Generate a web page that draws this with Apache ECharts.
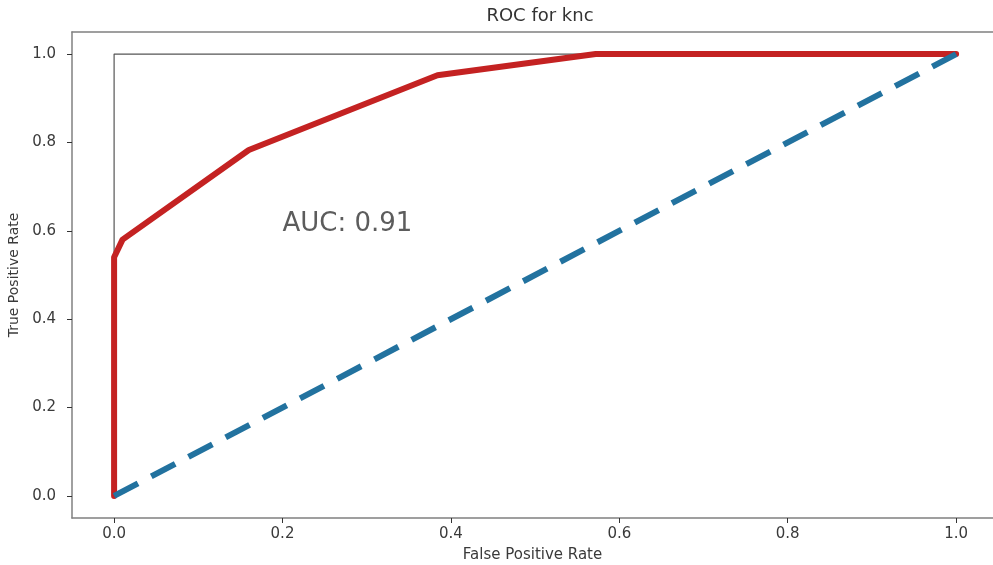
<!DOCTYPE html>
<html>
<head>
<meta charset="utf-8">
<script src="https://cdn.jsdelivr.net/npm/echarts@6/dist/echarts.min.js"></script>
<style>
html,body{margin:0;padding:0;background:#fff;}
#c{width:993px;height:565px;}
</style>
</head>
<body>
<div id="c"></div>
<script>
const titleText = 'ROC for knc';
const xLabel = 'False Positive Rate';
const yLabel = 'True Positive Rate';
const aucText = 'AUC: 0.91';
const aucPos = [0.2, 0.6];
const rocFpr = [0.0, 0.0, 0.01, 0.16, 0.384, 0.572, 1.0];
const rocTpr = [0.0, 0.54, 0.58, 0.783, 0.952, 1.0, 1.0];
const chanceX = [0, 1];
const chanceY = [0, 1];
const perfectX = [0, 0, 1];
const perfectY = [0, 1, 1];
const ticks = [0.0, 0.2, 0.4, 0.6, 0.8, 1.0];
const axisMin = -0.05;
const xAxisMax = 1.0438;
const yAxisMax = 1.05;

const zip = (a, b) => a.map((v, i) => [v, b[i]]);
const font = 'DejaVu Sans';
const chart = echarts.init(document.getElementById('c'), null, {renderer: 'canvas'});

const spine = {show: true, onZero: false, lineStyle: {color: '#808080', width: 1.5}};
const tickStyle = {show: true, length: 5, inside: false, lineStyle: {color: '#333', width: 1}, customValues: ticks};
const labelStyle = {color: '#3a3a3a', fontFamily: font, fontSize: 15, customValues: ticks, formatter: v => v.toFixed(1)};

chart.setOption({
  animation: false,
  backgroundColor: '#fff',
  title: {
    text: titleText, left: 535, top: 2, textAlign: 'center',
    textStyle: {fontFamily: font, fontSize: 18, fontWeight: 'normal', color: '#333'}
  },
  grid: {left: 72, top: 32, width: 921, height: 486, show: false, containLabel: false, outerBoundsMode: 'none'},
  xAxis: [
    {
      type: 'value', min: axisMin, max: xAxisMax, position: 'bottom',
      splitLine: {show: false}, axisLine: spine, axisTick: tickStyle,
      axisLabel: Object.assign({}, labelStyle, {margin: 9}),
      name: xLabel, nameLocation: 'middle', nameGap: 30,
      nameTextStyle: {fontFamily: font, fontSize: 15, color: '#3a3a3a'}
    },
    {
      type: 'value', min: axisMin, max: xAxisMax, position: 'top',
      splitLine: {show: false}, axisLine: spine, axisTick: {show: false}, axisLabel: {show: false}
    }
  ],
  yAxis: {
    type: 'value', min: axisMin, max: yAxisMax,
    splitLine: {show: false}, axisLine: spine, axisTick: tickStyle,
    axisLabel: Object.assign({}, labelStyle, {margin: 16}),
    name: yLabel, nameLocation: 'middle', nameGap: 39,
    nameTextStyle: {fontFamily: font, fontSize: 14, color: '#3a3a3a'}
  },
  series: [
    {
      type: 'line', data: zip(perfectX, perfectY), symbol: 'none', z: 2,
      lineStyle: {color: '#555', width: 1.2}
    },
    {
      type: 'line', data: zip(rocFpr, rocTpr), symbol: 'none', z: 3,
      lineStyle: {color: '#c42222', width: 6, join: 'round', cap: 'round'}
    },
    {
      type: 'line', data: zip(chanceX, chanceY), symbol: 'none', z: 4,
      lineStyle: {color: '#22729f', width: 6, type: [27, 15], cap: 'butt'}
    },
    {
      type: 'scatter', data: [aucPos], symbolSize: 0, z: 5, silent: true,
      label: {show: true, formatter: aucText, position: [0, 0], align: 'left', verticalAlign: 'bottom',
        offset: [0, 6], fontFamily: font, fontSize: 26, color: '#333', padding: 0}
    }
  ]
});
</script>
</body>
</html>
